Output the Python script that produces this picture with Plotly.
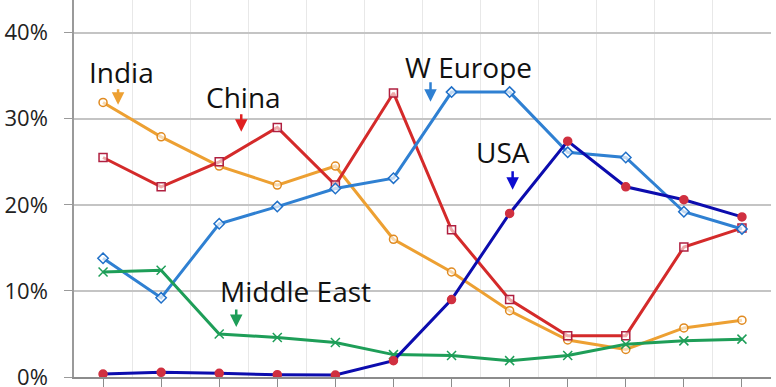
import plotly.graph_objects as go

categories = ["1", "1000", "1500", "1600", "1700", "1820", "1870", "1913", "1950", "1973", "2003", "2008"]

usa = [0.35, 0.55, 0.43, 0.27, 0.23, 1.9, 9.0, 19.0, 27.4, 22.1, 20.6, 18.6]
w_europe = [13.8, 9.2, 17.8, 19.8, 21.9, 23.1, 33.1, 33.1, 26.1, 25.5, 19.2, 17.2]
china = [25.5, 22.1, 25.0, 29.0, 22.3, 33.0, 17.1, 9.0, 4.8, 4.8, 15.1, 17.3]
india = [31.9, 27.9, 24.5, 22.3, 24.5, 16.0, 12.2, 7.7, 4.3, 3.2, 5.7, 6.6]
middle_east = [12.2, 12.4, 5.0, 4.6, 4.0, 2.6, 2.5, 1.9, 2.5, 3.8, 4.2, 4.4]

y_ticks = [0, 10, 20, 30, 40]

xs = list(range(len(categories)))
boundaries = [i + 0.5 for i in range(len(categories))]

fig = go.Figure()

def add(vals, color, symbol, mcolor, mfill, name, msize=8):
    fig.add_trace(go.Scatter(
        x=xs, y=vals, mode="lines+markers", name=name,
        line=dict(color=color, width=3),
        marker=dict(symbol=symbol, size=msize, color=mfill,
                    line=dict(color=mcolor, width=1.5)),
    ))

add(india, "#eda032", "circle", "#e08a20", "rgba(255,255,255,0.6)", "India")
add(china, "#d42a2a", "square", "#b02040", "rgba(255,255,255,0.6)", "China")
add(w_europe, "#2f80d2", "diamond", "#2070c8", "rgba(255,255,255,0.7)", "W Europe")
add(middle_east, "#1e9e58", "x-thin", "#1e9e58", "#1e9e58", "Middle East", 9)
add(usa, "#0c0cae", "circle", "#d03040", "#d03040", "USA", 8)

def px2x(px):
    return (px - 104) / 58.0

def py2y(py):
    return (377 - py) / 8.6

labels = [
    ("India", 122, 72, 119, 105, 88, "#eda032"),
    ("China", 244, 97, 242, 132, 113, "#e02020"),
    ("W Europe", 469, 67, 431, 102, 81, "#2f80d2"),
    ("USA", 503, 152, 513, 190, 170, "#0c0cd0"),
    ("Middle East", 296, 291, 237, 327, 308, "#1e9e58"),
]

for text, tx, ty, ax_, tip, tail, col in labels:
    fig.add_annotation(x=px2x(tx), y=py2y(ty), text=text, showarrow=False,
                       font=dict(family="Open Sans", size=28, color="#111111"),
                       xanchor="center", yanchor="middle")
    fig.add_annotation(x=px2x(ax_), y=py2y(tip), ax=0, ay=-(tip - tail), text="",
                       showarrow=True, arrowhead=2, arrowsize=1.0, arrowwidth=2.5,
                       arrowcolor=col)

fig.update_layout(
    width=776, height=387,
    margin=dict(l=74, r=5, t=0, b=10),
    paper_bgcolor="white", plot_bgcolor="white",
    showlegend=False,
    font=dict(family="Open Sans", color="#222222"),
)

fig.update_xaxes(
    range=[-0.5, 11.5], tickmode="array", tickvals=xs, ticktext=categories,
    showticklabels=False, ticks="outside", ticklen=8, tickcolor="#8c8c8c",
    showgrid=False, zeroline=False, showline=True, linecolor="#8c8c8c", linewidth=1.5,
    minor=dict(tickmode="array", tickvals=boundaries, showgrid=True,
               gridcolor="#e8e8e8", gridwidth=1, ticks=""),
    automargin=False,
)

fig.update_yaxes(
    range=[0, 43.8], tickmode="array", tickvals=y_ticks,
    ticktext=[f"{v}%" for v in y_ticks],
    tickfont=dict(size=22, color="#222222", family="Open Sans"),
    ticks="outside", ticklen=8, tickcolor="#9a9a9a",
    ticklabelstandoff=12, ticklabeloverflow="allow",
    showgrid=True, gridcolor="#c4c4c4", gridwidth=1.5,
    zeroline=False, showline=True, linecolor="#9a9a9a", linewidth=1.5,
    automargin=False,
)

fig.write_html("out.html", config={"displayModeBar": False},
               post_script="document.body.style.margin='0';document.body.style.overflow='hidden';")
